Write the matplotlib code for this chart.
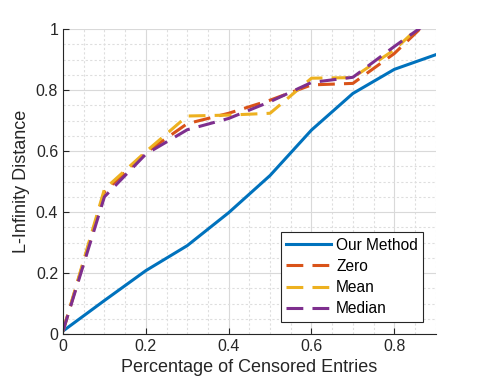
import numpy as np
import matplotlib.pyplot as plt
from matplotlib.ticker import MultipleLocator

plt.rcParams['font.family'] = ['Liberation Sans', 'DejaVu Sans']

x = [0, 0.1, 0.2, 0.3, 0.4, 0.5, 0.6, 0.7, 0.8, 0.9]
our_method = [0.01, 0.11, 0.208, 0.29, 0.398, 0.52, 0.669, 0.789, 0.868, 0.916]
zero = [0.01, 0.466, 0.595, 0.69, 0.724, 0.767, 0.817, 0.822, 0.92, 1.05]
mean = [0.01, 0.475, 0.598, 0.715, 0.718, 0.724, 0.839, 0.841, 0.932, 1.058]
median = [0.01, 0.45, 0.59, 0.67, 0.707, 0.762, 0.825, 0.842, 0.943, 1.04]

fig = plt.figure(figsize=(4.82, 3.88), dpi=100)
ax = fig.add_axes([0.1307, 0.139, 0.7733, 0.786])

dash = (0, (5.5, 3))
ax.plot(x, our_method, color='#0072BD', lw=2.2, label='Our Method')
ax.plot(x, zero, color='#D95319', lw=2.2, ls=dash, label='Zero')
ax.plot(x, mean, color='#EDB120', lw=2.2, ls=dash, label='Mean')
ax.plot(x, median, color='#7E2F8E', lw=2.2, ls=dash, label='Median')

ax.set_xlim(0, 0.9)
ax.set_ylim(0, 1)
ax.xaxis.set_minor_locator(MultipleLocator(0.05))
ax.yaxis.set_minor_locator(MultipleLocator(0.05))
ax.set_yticks([0, 0.2, 0.4, 0.6, 0.8, 1])
ax.set_yticklabels(['0', '0.2', '0.4', '0.6', '0.8', '1'])
ax.set_xticks([0, 0.2, 0.4, 0.6, 0.8])
ax.set_xticklabels(['0', '0.2', '0.4', '0.6', '0.8'])

ax.grid(which='major', color='#d9d9d9', lw=0.8, ls='-')
ax.grid(which='minor', color='#dedede', lw=0.8, ls=(0, (2, 2)))
ax.set_axisbelow(True)
ax.tick_params(which='both', direction='in', labelsize=11.5, colors='#262626')
ax.tick_params(which='minor', length=0)
ax.tick_params(which='major', length=4)
for s in ['top', 'right']:
    ax.spines[s].set_visible(False)
for s in ['left', 'bottom']:
    ax.spines[s].set_color('#262626')

ax.set_xlabel('Percentage of Censored Entries', fontsize=13, color='#262626')
ax.set_ylabel('L-Infinity Distance', fontsize=13, color='#262626')

leg = ax.legend(loc='lower right', fontsize=11.2, fancybox=False, framealpha=1,
                edgecolor='#262626', borderaxespad=0.8, handlelength=2.9,
                labelspacing=0.4, borderpad=0.35, handletextpad=0.3)
leg.get_frame().set_linewidth(0.8)

fig.savefig('out.png', dpi=100)
